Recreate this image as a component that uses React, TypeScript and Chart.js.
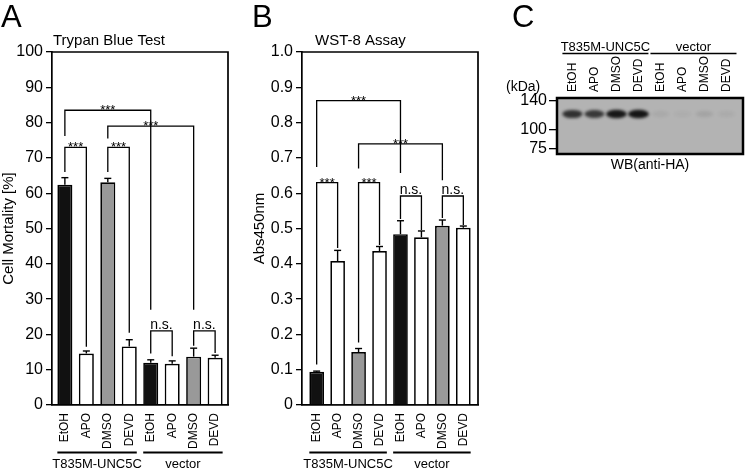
import React, { useEffect, useRef } from 'react';
import { Chart, registerables } from 'chart.js';
Chart.register(...registerables);

const FONT = '"Liberation Sans", Arial, Helvetica, sans-serif';

// ---------- data ----------
const lanes = ['EtOH', 'APO', 'DMSO', 'DEVD', 'EtOH', 'APO', 'DMSO', 'DEVD'];
const groups = ['T835M-UNC5C', 'vector'];
const groupSpans = [[0, 3], [4, 7]];

const mortality = [62.4, 14.6, 63.1, 16.6, 12.0, 11.7, 13.7, 13.4];
const mortalityErr = [2.0, 0.7, 1.1, 1.9, 0.8, 0.8, 2.4, 0.7];
const mortalityTicks = [0, 10, 20, 30, 40, 50, 60, 70, 80, 90, 100];
// [from, to, bracket top, left leg end, right leg end, label]
const mortalityBrackets: [number, number, number, number, number, string][] = [
  [0, 4, 83.5, 76.2, 27, '***'],
  [2, 6, 79, 75.5, 27, '***'],
  [0, 1, 73, 66, 16.5, '***'],
  [2, 3, 73, 66, 20.5, '***'],
  [4, 5, 21, 14.6, 13.8, 'n.s.'],
  [6, 7, 21, 16.8, 14.7, 'n.s.'],
];

const abs450 = [0.094, 0.408, 0.15, 0.436, 0.484, 0.475, 0.508, 0.502];
const abs450Err = [0.002, 0.03, 0.01, 0.013, 0.038, 0.018, 0.016, 0.005];
const absTicks = [0, 0.1, 0.2, 0.3, 0.4, 0.5, 0.6, 0.7, 0.8, 0.9, 1.0];
const absBrackets: [number, number, number, number, number, string][] = [
  [0, 4, 0.862, 0.674, 0.657, '***'],
  [2, 6, 0.74, 0.67, 0.637, '***'],
  [0, 1, 0.63, 0.115, 0.445, '***'],
  [2, 3, 0.63, 0.177, 0.453, '***'],
  [4, 5, 0.592, 0.527, 0.496, 'n.s.'],
  [6, 7, 0.592, 0.53, 0.51, 'n.s.'],
];

const bandIntensity = [0.8, 0.75, 0.95, 0.97, 0.06, 0.04, 0.09, 0.05];
const bandKDa = 122;
const markerKDa = [140, 100, 75];

// ---------- styles ----------
const barFills = ['#111111', '#ffffff', '#999999', '#ffffff', '#111111', '#ffffff', '#999999', '#ffffff'];

type PanelCfg = {
  values: number[];
  errors: number[];
  yMax: number;
  yTicks: number[];
  yFmt: (v: number) => string;
  xMin: number;
  xMax: number;
  brackets: [number, number, number, number, number, string][];
  title: string;
  titleX: number;
  axisTitle: string;
  axisTitleX: number;
  letter: string;
  letterX: number;
};

function line(ctx: CanvasRenderingContext2D, x1: number, y1: number, x2: number, y2: number) {
  ctx.beginPath();
  ctx.moveTo(x1, y1);
  ctx.lineTo(x2, y2);
  ctx.stroke();
}

function makeBarChart(canvas: HTMLCanvasElement, p: PanelCfg) {
  const decor = {
    id: 'decor',
    afterDatasetsDraw(chart: any) {
      const { ctx, chartArea: a, scales } = chart;
      const x = scales.x, y = scales.y;
      const meta = chart.getDatasetMeta(0);
      ctx.save();
      ctx.strokeStyle = '#000';
      ctx.fillStyle = '#000';
      ctx.lineCap = 'butt';
      // frame
      ctx.lineWidth = 1.7;
      ctx.beginPath();
      ctx.moveTo(a.left, a.top);
      ctx.lineTo(a.right, a.top);
      ctx.lineTo(a.right, a.bottom);
      ctx.stroke();
      // error bars
      ctx.lineWidth = 1.4;
      p.values.forEach((v, i) => {
        const px = x.getPixelForValue(i);
        const y0 = y.getPixelForValue(v);
        const y1 = y.getPixelForValue(v + p.errors[i]);
        line(ctx, px, y0, px, y1);
        line(ctx, px - 3.5, y1, px + 3.5, y1);
      });
      // brackets
      ctx.lineWidth = 1.3;
      ctx.textAlign = 'center';
      p.brackets.forEach(([i, j, top, l, r, label]) => {
        const xi = x.getPixelForValue(i);
        const xj = x.getPixelForValue(j);
        const yt = y.getPixelForValue(top);
        ctx.beginPath();
        ctx.moveTo(xi, y.getPixelForValue(l));
        ctx.lineTo(xi, yt);
        ctx.lineTo(xj, yt);
        ctx.lineTo(xj, y.getPixelForValue(r));
        ctx.stroke();
        const cx = (xi + xj) / 2;
        ctx.textBaseline = 'alphabetic';
        if (label === '***') {
          ctx.font = `13px ${FONT}`;
          ctx.fillText(label, cx, yt + 4);
        } else {
          ctx.font = `14px ${FONT}`;
          ctx.fillText(label, cx, yt - 2);
        }
      });
      // group underlines and labels
      groups.forEach((g, k) => {
        const [s, e] = groupSpans[k];
        const bs = meta.data[s], be = meta.data[e];
        const x1 = x.getPixelForValue(s) - bs.width / 2;
        const x2 = x.getPixelForValue(e) + be.width / 2;
        ctx.lineWidth = 2;
        line(ctx, x1, a.bottom + 47.5, x2, a.bottom + 47.5);
        ctx.font = `13px ${FONT}`;
        ctx.textBaseline = 'alphabetic';
        ctx.fillText(g, (x1 + x2) / 2, a.bottom + 63);
      });
      // title
      ctx.textAlign = 'left';
      ctx.font = `15px ${FONT}`;
      ctx.fillText(p.title, p.titleX, 45);
      // axis title
      ctx.save();
      ctx.translate(p.axisTitleX, (a.top + a.bottom) / 2);
      ctx.rotate(-Math.PI / 2);
      ctx.textAlign = 'center';
      ctx.textBaseline = 'middle';
      ctx.fillText(p.axisTitle, 0, 0);
      ctx.restore();
      // panel letter
      ctx.font = `31px ${FONT}`;
      ctx.textAlign = 'left';
      ctx.textBaseline = 'alphabetic';
      ctx.fillText(p.letter, p.letterX, 27);
      ctx.restore();
    },
  };

  return new Chart(canvas, {
    type: 'bar',
    data: {
      datasets: [
        {
          data: p.values.map((v, i) => ({ x: i, y: v })),
          backgroundColor: barFills,
          borderColor: '#000',
          borderWidth: 1.7,
          barPercentage: 0.7,
          categoryPercentage: 1,
        },
      ],
    },
    options: {
      responsive: false,
      animation: false,
      layout: { padding: { top: 52, right: 22, left: 0, bottom: 0 } },
      plugins: { legend: { display: false }, tooltip: { enabled: false }, title: { display: false } },
      scales: {
        x: {
          type: 'linear',
          min: p.xMin,
          max: p.xMax,
          offset: false,
          afterBuildTicks: (s: any) => {
            s.ticks = lanes.map((_, i) => ({ value: i }));
          },
          afterFit: (s: any) => {
            s.height = 64;
          },
          ticks: {
            autoSkip: false,
            minRotation: 90,
            maxRotation: 90,
            padding: 0,
            color: '#000',
            font: { family: FONT, size: 12 },
            callback: (v: any) => lanes[v as number],
          },
          grid: { display: false },
          border: { display: true, color: '#000', width: 1.7 },
        },
        y: {
          min: 0,
          max: p.yMax,
          afterBuildTicks: (s: any) => {
            s.ticks = p.yTicks.map((v) => ({ value: v }));
          },
          afterFit: (s: any) => {
            s.width = 52;
          },
          ticks: {
            padding: 3,
            color: '#000',
            font: { family: FONT, size: 16 },
            callback: (v: any) => p.yFmt(v as number),
          },
          grid: { drawOnChartArea: false, tickLength: 6, color: '#000', lineWidth: 1.3 },
          border: { display: true, color: '#000', width: 1.7 },
        },
      },
    } as any,
    plugins: [decor],
  } as any);
}

function makeBlot(canvas: HTMLCanvasElement) {
  const blot = {
    id: 'blot',
    beforeDatasetsDraw(chart: any) {
      const { ctx, chartArea: a, scales } = chart;
      const x = scales.x, y = scales.y;
      ctx.save();
      ctx.fillStyle = '#b3b3b3';
      ctx.fillRect(a.left, a.top, a.right - a.left, a.bottom - a.top);
      ctx.filter = 'blur(1.6px)';
      bandIntensity.forEach((v, i) => {
        const cx = x.getPixelForValue(i);
        const cy = y.getPixelForValue(bandKDa);
        ctx.fillStyle = `rgba(15,15,15,${v})`;
        ctx.beginPath();
        ctx.ellipse(cx, cy, 8.5 + 2 * v, 2.8 + 1.6 * v, 0, 0, Math.PI * 2);
        ctx.fill();
      });
      ctx.filter = 'none';
      ctx.lineWidth = 2.5;
      ctx.strokeStyle = '#000';
      ctx.strokeRect(a.left, a.top, a.right - a.left, a.bottom - a.top);
      ctx.fillStyle = '#000';
      // lane labels (rotated, reading upwards)
      ctx.font = `12px ${FONT}`;
      ctx.textAlign = 'left';
      ctx.textBaseline = 'middle';
      lanes.forEach((l, i) => {
        ctx.save();
        ctx.translate(x.getPixelForValue(i), a.top - 6);
        ctx.rotate(-Math.PI / 2);
        ctx.fillText(l, 0, 0);
        ctx.restore();
      });
      // group lines and labels
      ctx.textAlign = 'center';
      ctx.textBaseline = 'alphabetic';
      groups.forEach((g, k) => {
        const [s, e] = groupSpans[k];
        const x1 = x.getPixelForValue(s) - 10;
        const x2 = x.getPixelForValue(e) + 10;
        ctx.lineWidth = 1.5;
        line(ctx, x1, 53.5, x2, 53.5);
        ctx.font = `13px ${FONT}`;
        ctx.fillText(g, (x1 + x2) / 2, 50.5);
      });
      ctx.font = `14px ${FONT}`;
      ctx.fillText('WB(anti-HA)', (a.left + a.right) / 2, a.bottom + 15);
      ctx.textAlign = 'left';
      ctx.fillText('(kDa)', 6, 91);
      ctx.font = `31px ${FONT}`;
      ctx.fillText('C', 12, 27);
      ctx.restore();
    },
  };

  return new Chart(canvas, {
    type: 'scatter',
    data: {
      datasets: [
        {
          data: bandIntensity.map((_, i) => ({ x: i, y: bandKDa })),
          pointRadius: 0,
          showLine: false,
        },
      ],
    },
    options: {
      responsive: false,
      animation: false,
      layout: { padding: { top: 0, right: 2, left: 0, bottom: 46 } },
      plugins: { legend: { display: false }, tooltip: { enabled: false } },
      scales: {
        x: {
          type: 'linear',
          position: 'top',
          min: -0.7,
          max: 7.75,
          afterBuildTicks: (s: any) => {
            s.ticks = lanes.map((_, i) => ({ value: i }));
          },
          afterFit: (s: any) => {
            s.height = 98;
          },
          ticks: { display: false },
          grid: { display: false },
          border: { display: false },
        },
        y: {
          type: 'linear',
          min: 67,
          max: 144,
          afterBuildTicks: (s: any) => {
            s.ticks = markerKDa.map((v) => ({ value: v }));
          },
          afterFit: (s: any) => {
            s.width = 57;
          },
          ticks: {
            padding: 2,
            color: '#000',
            font: { family: FONT, size: 16 },
          },
          grid: { drawOnChartArea: false, tickLength: 8, color: '#000', lineWidth: 1.3 },
          border: { display: false },
        },
      },
    } as any,
    plugins: [blot],
  } as any);
}

function PanelA() {
  const ref = useRef<HTMLCanvasElement>(null);
  useEffect(() => {
    const c = makeBarChart(ref.current!, {
      values: mortality,
      errors: mortalityErr,
      yMax: 100,
      yTicks: mortalityTicks,
      yFmt: (v) => String(v),
      xMin: -0.6,
      xMax: 7.6,
      brackets: mortalityBrackets,
      title: 'Trypan Blue Test',
      titleX: 53,
      axisTitle: 'Cell Mortality [%]',
      axisTitleX: 9,
      letter: 'A',
      letterX: 1,
    });
    return () => c.destroy();
  }, []);
  return <canvas ref={ref} width={250} height={469} style={{ position: 'absolute', left: 0, top: 0 }} />;
}

function PanelB() {
  const ref = useRef<HTMLCanvasElement>(null);
  useEffect(() => {
    const c = makeBarChart(ref.current!, {
      values: abs450,
      errors: abs450Err,
      yMax: 1,
      yTicks: absTicks,
      yFmt: (v) => (v === 0 ? '0' : v.toFixed(1)),
      xMin: -0.7,
      xMax: 7.7,
      brackets: absBrackets,
      title: 'WST-8 Assay',
      titleX: 65,
      axisTitle: 'Abs450nm',
      axisTitleX: 10,
      letter: 'B',
      letterX: 2,
    });
    return () => c.destroy();
  }, []);
  return <canvas ref={ref} width={250} height={469} style={{ position: 'absolute', left: 250, top: 0 }} />;
}

function PanelC() {
  const ref = useRef<HTMLCanvasElement>(null);
  useEffect(() => {
    const c = makeBlot(ref.current!);
    return () => c.destroy();
  }, []);
  return <canvas ref={ref} width={245} height={200} style={{ position: 'absolute', left: 500, top: 0 }} />;
}

export default function App() {
  return (
    <div style={{ position: 'absolute', left: 0, top: 0, width: 745, height: 469, background: '#fff', overflow: 'hidden' }}>
      <PanelA />
      <PanelB />
      <PanelC />
    </div>
  );
}
